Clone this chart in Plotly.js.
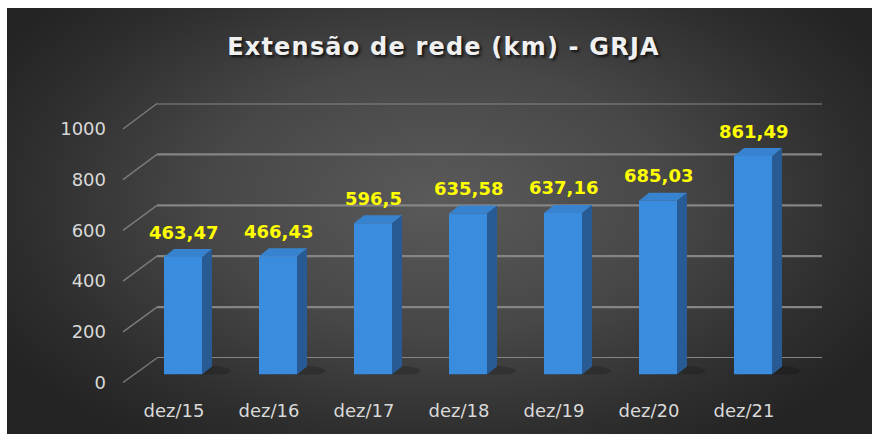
<!DOCTYPE html>
<html>
<head>
<meta charset="utf-8">
<script src="https://cdn.plot.ly/plotly-3.0.1.min.js"></script>
<style>
  html, body { margin: 0; padding: 0; background: #ffffff; }
  #wrap { position: relative; width: 872px; height: 439px; overflow: hidden; }
  #bg { position: absolute; left: 7px; top: 8px; width: 865px; height: 426px;
        background: radial-gradient(ellipse 60% 70% at 50% 45%, #5a5a5a 0%, #474747 45%, #2e2e2e 80%, #232323 100%); }
  #chart { position: absolute; left: 0; top: 0; width: 872px; height: 439px; }
  .gtitle { letter-spacing: 1.2px; }
</style>
</head>
<body>
<div id="wrap"><div id="bg"></div><div id="chart"></div></div>
<script>
// ---- data ----
const categories = ['dez/15', 'dez/16', 'dez/17', 'dez/18', 'dez/19', 'dez/20', 'dez/21'];
const values = [463.47, 466.43, 596.5, 635.58, 637.16, 685.03, 861.49];
const yTicks = [0, 200, 400, 600, 800, 1000];
const labelText = values.map(v => String(v).replace('.', ','));

// ---- geometry (pixels) ----
const W = 872, H = 439;
const px = x => x / W;
const py = y => 1 - y / H;
const BACK = { x0: 157, x1: 822, yZero: 358, yTop: 103.5 };
const BAR = { x0: 135.5, x1: 800.5, yZero: 374.5, yTop: 121 };
const FRONT = { x0: 126.5, x1: 791.5, yZero: 382.5, yTop: 129, lineX: 123 };
const YMAX = 1000;
const unitPx = (BAR.yZero - BAR.yTop) / YMAX;
const catPx = (BAR.x1 - BAR.x0) / categories.length;
const depthDx = 10 / catPx;
const depthDy = 8 / unitPx;
const half = 0.2;

const idx = categories.map((c, i) => i);

const traces = [
  { type: 'scatter', x: idx, y: values, xaxis: 'x', yaxis: 'y', mode: 'markers',
    marker: { opacity: 0 }, hoverinfo: 'skip', showlegend: false },
  { type: 'bar', x: idx, y: values, xaxis: 'x2', yaxis: 'y2', width: 2 * half,
    marker: { color: '#3a8cdf', line: { width: 0 } }, hoverinfo: 'skip', showlegend: false },
  { type: 'scatter', x: idx, y: values, xaxis: 'x3', yaxis: 'y3', mode: 'markers',
    marker: { opacity: 0 }, hoverinfo: 'skip', showlegend: false }
];

const shapes = [];
yTicks.forEach(v => {
  shapes.push({ type: 'line', xref: 'paper', yref: 'y', layer: 'below',
    x0: px(BACK.x0), x1: px(BACK.x1), y0: v, y1: v,
    line: { color: '#858585', width: 2.2 } });
  const yf = FRONT.yZero - (FRONT.yZero - FRONT.yTop) * v / YMAX;
  const yb = BACK.yZero - (BACK.yZero - BACK.yTop) * v / YMAX;
  shapes.push({ type: 'line', xref: 'paper', yref: 'paper', layer: 'below',
    x0: px(FRONT.lineX), y0: py(yf), x1: px(BACK.x0), y1: py(yb),
    line: { color: '#7a7a7a', width: 1.5 } });
});
values.forEach((v, i) => {
  shapes.push({ type: 'circle', xref: 'x2', yref: 'y2', layer: 'below',
    x0: i - 0.12, x1: i + 0.5, y0: -8, y1: 36,
    fillcolor: 'rgba(0,0,0,0.18)', line: { width: 0 } });
  shapes.push({ type: 'path', xref: 'x2', yref: 'y2', layer: 'above',
    path: `M ${i + half},0 L ${i + half + depthDx},${depthDy} L ${i + half + depthDx},${v + depthDy} L ${i + half},${v} Z`,
    fillcolor: '#285b93', line: { width: 0 } });
  shapes.push({ type: 'path', xref: 'x2', yref: 'y2', layer: 'above',
    path: `M ${i - half},${v} L ${i + half},${v} L ${i + half + depthDx},${v + depthDy} L ${i - half + depthDx},${v + depthDy} Z`,
    fillcolor: '#3883d0', line: { width: 0 } });
});

const annotations = values.map((v, i) => ({
  xref: 'x2', yref: 'y2', x: i, y: v, text: labelText[i], showarrow: false,
  xanchor: 'center', yanchor: 'middle', yshift: 25,
  font: { family: 'DejaVu Sans', size: 18, color: '#ffff00', weight: 'bold' }
}));

const hidden = { showgrid: false, zeroline: false, showline: false, showticklabels: false, ticks: '' };
const xr = [-0.5, categories.length - 0.5];

const layout = {
  width: W, height: H,
  margin: { l: 0, r: 0, t: 0, b: 0, pad: 0 },
  paper_bgcolor: 'rgba(0,0,0,0)', plot_bgcolor: 'rgba(0,0,0,0)',
  showlegend: false,
  title: { text: 'Extensão de rede (km) - GRJA', xref: 'paper', yref: 'paper',
    x: px(443.5), xanchor: 'center', y: py(47), yanchor: 'middle',
    font: { family: 'DejaVu Sans', size: 24, color: '#f0f0f0', weight: 'bold',
            shadow: '2px 2px 3px rgba(0,0,0,0.75)' } },
  xaxis: Object.assign({}, hidden, { domain: [px(BACK.x0), px(BACK.x1)], range: xr, anchor: 'y' }),
  yaxis: Object.assign({}, hidden, { domain: [py(BACK.yZero), py(BACK.yTop)], range: [0, YMAX], anchor: 'x' }),
  xaxis2: Object.assign({}, hidden, { domain: [px(BAR.x0), px(BAR.x1)], range: xr, anchor: 'y2' }),
  yaxis2: Object.assign({}, hidden, { domain: [py(BAR.yZero), py(BAR.yTop)], range: [0, YMAX], anchor: 'x2' }),
  xaxis3: Object.assign({}, hidden, { domain: [px(FRONT.x0), px(FRONT.x1)], range: xr,
    anchor: 'free', position: py(398), showticklabels: true,
    tickvals: idx, ticktext: categories,
    tickfont: { family: 'DejaVu Sans', size: 18, color: '#d9d9d9' } }),
  yaxis3: Object.assign({}, hidden, { domain: [py(FRONT.yZero), py(FRONT.yTop)], range: [0, YMAX],
    anchor: 'free', position: px(106), side: 'left', showticklabels: true,
    tickvals: yTicks, ticktext: yTicks.map(String),
    tickfont: { family: 'DejaVu Sans', size: 18, color: '#d9d9d9' } }),
  shapes: shapes,
  annotations: annotations
};

Plotly.newPlot('chart', traces, layout, { displayModeBar: false, staticPlot: true });
</script>
</body>
</html>
